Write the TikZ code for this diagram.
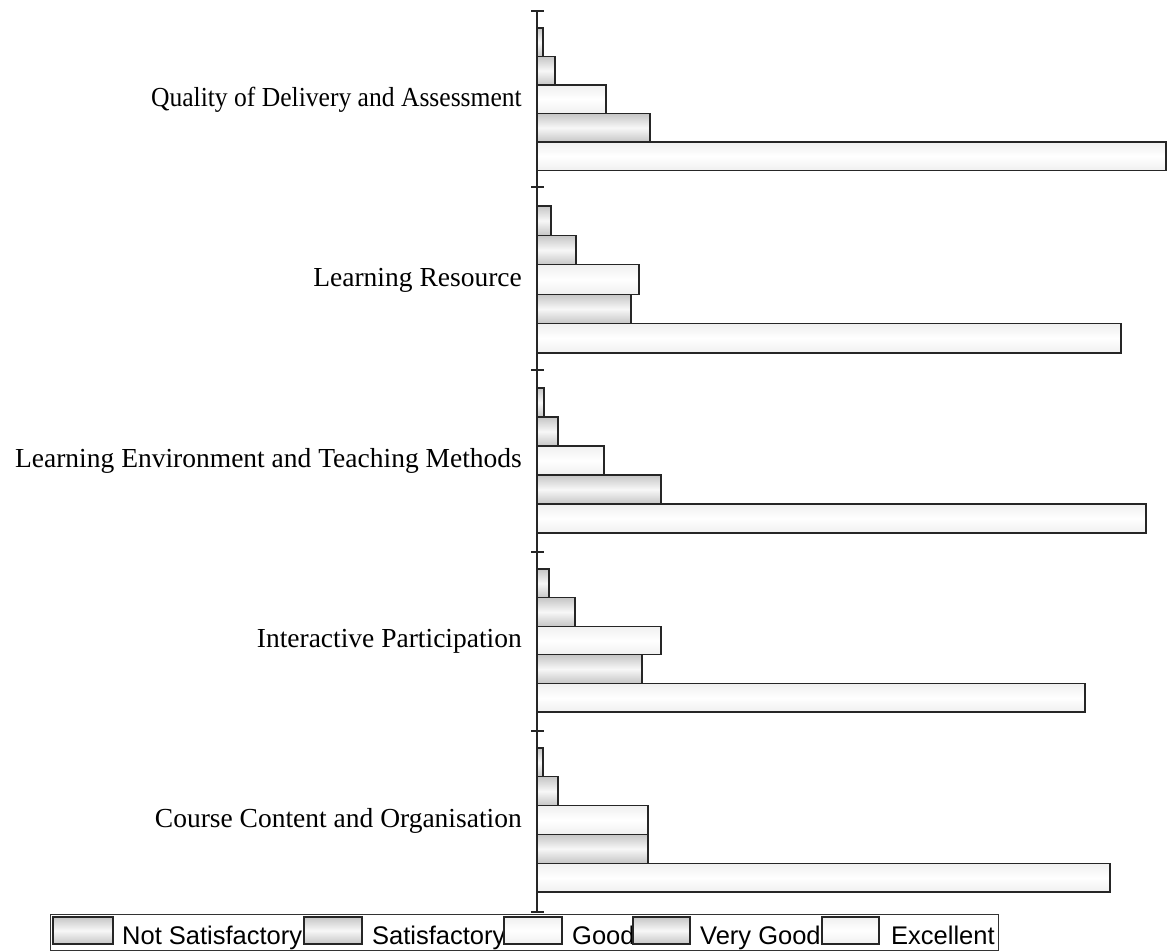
\documentclass[tikz,border=0pt]{standalone}
\usepackage{fontspec}
\usepackage{graphicx}
\setmainfont{Liberation Serif}
\newfontfamily\legendfont{Liberation Sans}
\begin{document}
\begin{tikzpicture}[x=1pt,y=-1pt,
  barline/.style={draw=black!85, line width=1.1pt},
  darkfill/.style={barline, top color=gray!45, bottom color=gray!45, middle color=gray!6},
  lightfill/.style={barline, top color=gray!12, bottom color=gray!12, middle color=white},
  catlabel/.style={anchor=east, inner sep=0pt, font=\fontsize{27.5}{30}\selectfont},
  legtext/.style={anchor=base west, inner sep=0pt, font=\legendfont\fontsize{25.5}{28}\selectfont},
  axisline/.style={draw=black!85, line width=1.4pt}]
\useasboundingbox (0,0) rectangle (1169,952);
\fill[white] (0,0) rectangle (1169,952);
% bars: top y, bar height, right x of NS,S,G,VG,E
\foreach \top/\h/\a/\b/\c/\d/\e in {28/28.5/543/555/606/650/1166, 206/29.4/551/576/639/631/1121, 388/29/544/558/604/661/1146, 569/28.6/549/575/661/642/1085, 748/28.8/543/558/648/648/1110}{
  \draw[darkfill] (537,\top) rectangle (\a,\top+\h);
  \draw[darkfill] (537,\top+\h) rectangle (\b,\top+2*\h);
  \draw[lightfill] (537,\top+2*\h) rectangle (\c,\top+3*\h);
  \draw[darkfill] (537,\top+3*\h) rectangle (\d,\top+4*\h);
  \draw[lightfill] (537,\top+4*\h) rectangle (\e,\top+5*\h);
}
% axis
\draw[axisline] (537,11) -- (537,912);
\foreach \t in {11,187,370,552,731,912}{
  \draw[axisline] (531,\t) -- (544,\t);
}
% category labels
\node[catlabel] (c1) at (522,100) {\scalebox{0.93}[1]{Quality of Delivery and Assessment}};
\node[catlabel] (c2) at (522,280) {Learning Resource};
\node[catlabel] (c3) at (522,461) {Learning Environment and Teaching Methods};
\node[catlabel] (c4) at (522,641) {Interactive Participation};
\node[catlabel] (c5) at (522,821) {Course Content and Organisation};
% legend
\draw[draw=black!80, line width=1pt] (50,914) rectangle (998,950);
\draw[darkfill] (53,917) rectangle (113,944);
\node[legtext] (l1) at (122,944) {Not Satisfactory};
\draw[darkfill] (304,917) rectangle (362,944);
\node[legtext] (l2) at (372,944) {Satisfactory};
\draw[lightfill] (504,917) rectangle (562,944);
\node[legtext] (l3) at (572,944) {Good};
\draw[darkfill] (633,917) rectangle (690,944);
\node[legtext] (l4) at (700,944) {Very Good};
\draw[lightfill] (822,917) rectangle (879,944);
\node[legtext] (l5) at (891,944) {Excellent};
\end{tikzpicture}
\end{document}
